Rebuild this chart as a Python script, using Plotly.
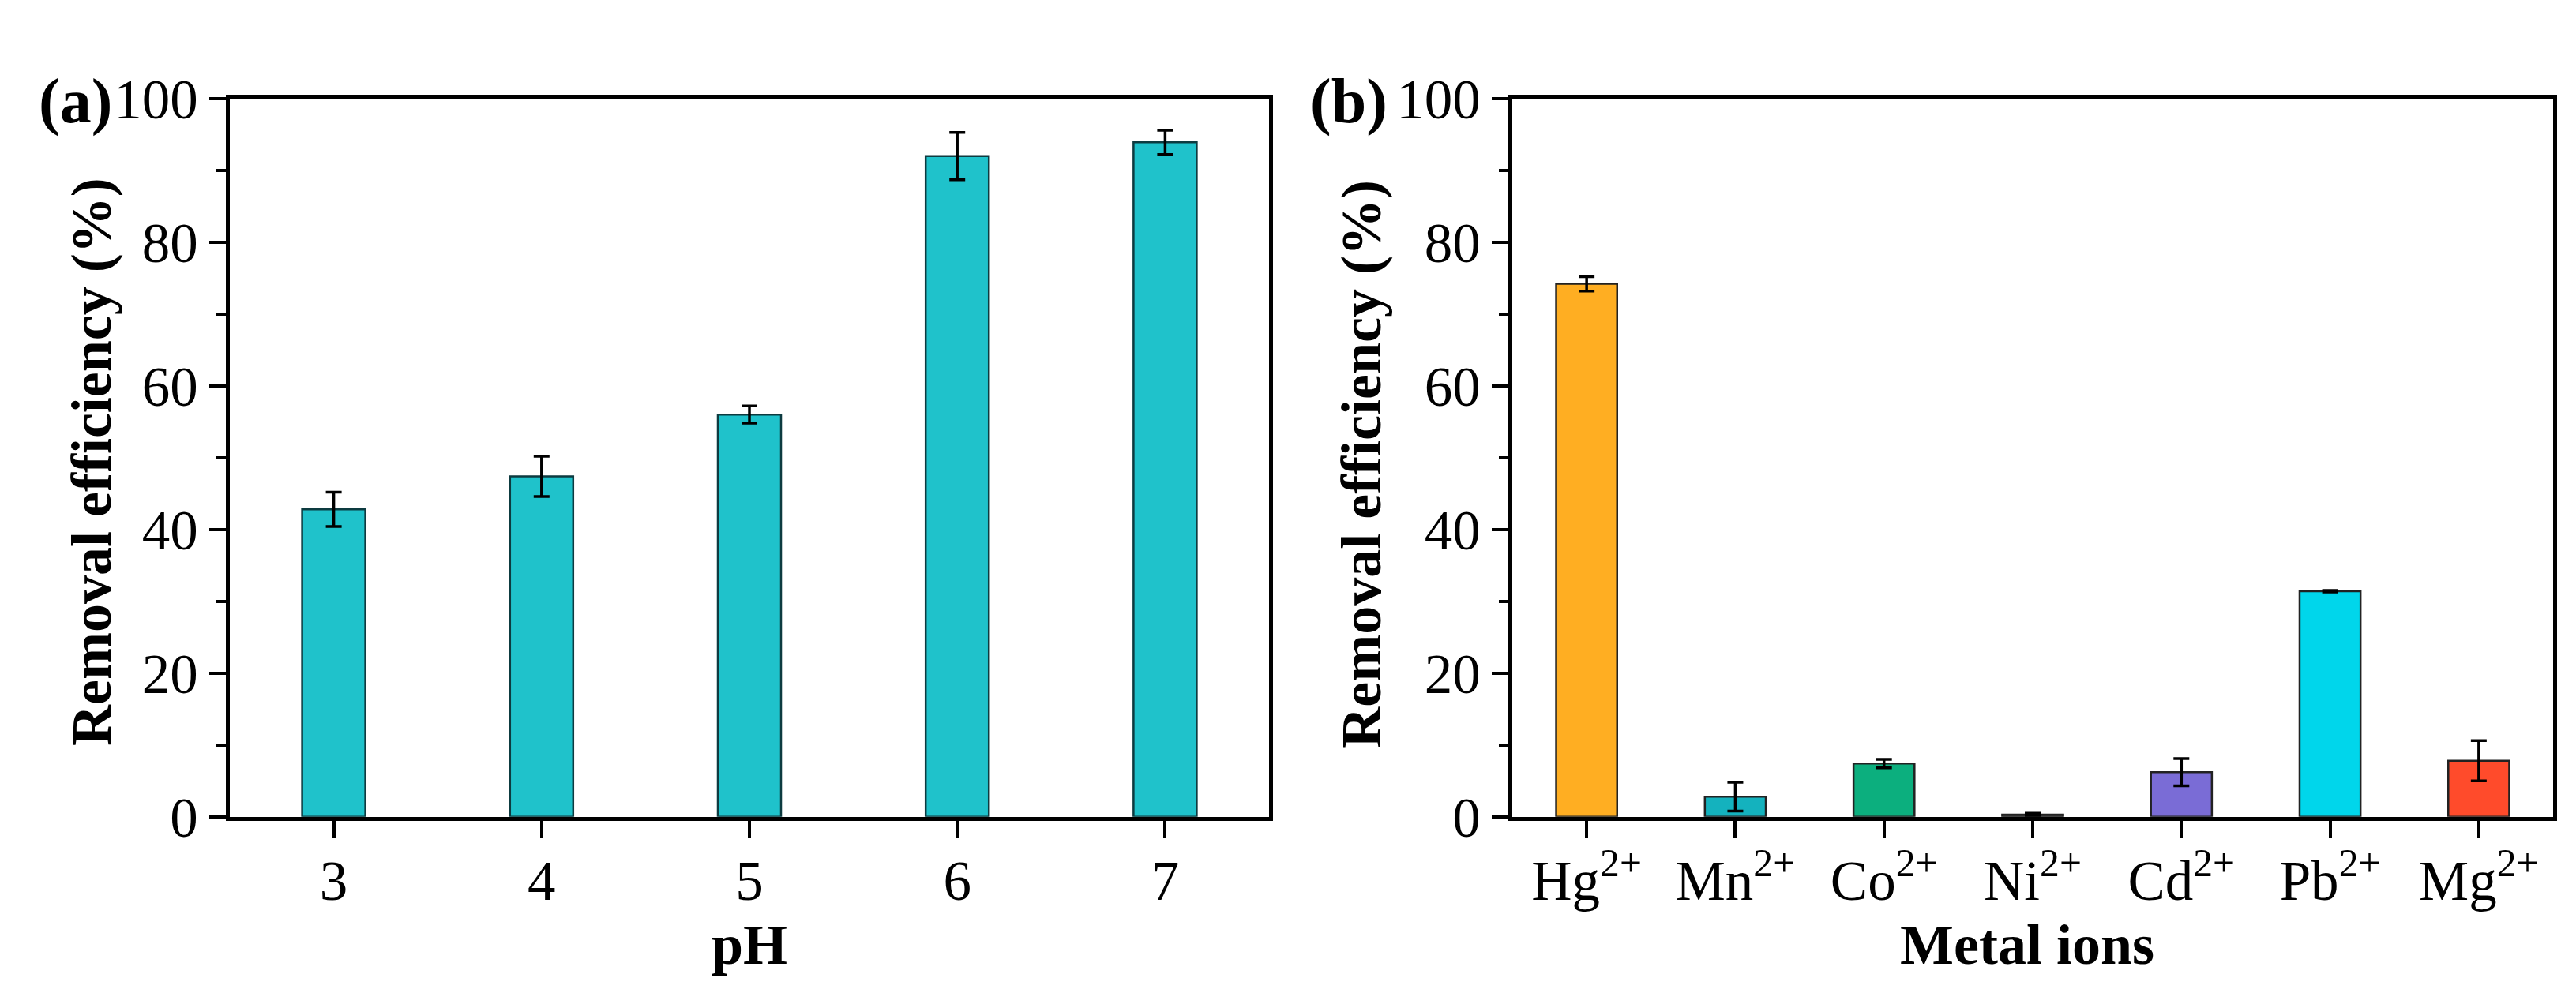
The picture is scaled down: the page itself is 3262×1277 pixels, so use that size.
import plotly.graph_objects as go

# ---------------- data ----------------
ph_values = [3, 4, 5, 6, 7]
ph_removal = [42.8, 47.4, 56.0, 92.0, 93.9]
ph_error = [2.4, 2.8, 1.2, 3.3, 1.7]

metal_ions = ["Hg<sup>2+</sup>", "Mn<sup>2+</sup>", "Co<sup>2+</sup>", "Ni<sup>2+</sup>",
              "Cd<sup>2+</sup>", "Pb<sup>2+</sup>", "Mg<sup>2+</sup>"]
metal_removal = [74.2, 2.8, 7.4, 0.3, 6.2, 31.4, 7.8]
metal_error = [1.0, 2.0, 0.6, 0.2, 1.9, 0.1, 2.8]
metal_colors = ["#FFAE22", "#14B2BE", "#0CAF7E", "#555555", "#7A6CD6", "#00D6EB", "#FF4B2B"]

y_ticks = [0, 20, 40, 60, 80, 100]

W, H = 3262, 1277
FONT = "Liberation Serif"
TICK_SIZE = 71
TITLE_SIZE = 72

fig = go.Figure()

fig.add_trace(go.Bar(
    x=ph_values, y=ph_removal, width=0.304,
    marker=dict(color="#1FC2CB", line=dict(color="#0D3B40", width=2.5)),
    error_y=dict(type="data", array=ph_error, visible=True, color="black", thickness=3.5, width=10),
    xaxis="x", yaxis="y", showlegend=False,
))

fig.add_trace(go.Bar(
    x=metal_ions, y=metal_removal, width=0.41,
    marker=dict(color=metal_colors, line=dict(color="#222222", width=2.5)),
    error_y=dict(type="data", array=metal_error, visible=True, color="black", thickness=3.5, width=10),
    xaxis="x2", yaxis="y2", showlegend=False,
))

axis_common = dict(
    showline=True, linecolor="black", linewidth=5, mirror=True,
    ticks="outside", ticklen=21, tickwidth=4, tickcolor="black",
    showgrid=False, zeroline=False,
    tickfont=dict(family=FONT, size=TICK_SIZE, color="black"),
)

xaxis_common = dict(axis_common)
xaxis_common.update(ticklabelstandoff=-6)

yaxis_common = dict(axis_common)
yaxis_common.update(
    range=[0, 100], tickmode="array", tickvals=y_ticks, ticktext=[str(v) for v in y_ticks],
    minor=dict(ticks="outside", ticklen=12, tickwidth=4, tickcolor="black", dtick=10, showgrid=False),
)

fig.update_layout(
    width=W, height=H, autosize=False,
    margin=dict(l=0, r=0, t=0, b=0),
    paper_bgcolor="white", plot_bgcolor="white",
    barmode="overlay",
    xaxis=dict(xaxis_common, domain=[283 / W, 1599 / W], range=[2.5, 7.5],
               tickmode="array", tickvals=ph_values, ticktext=[str(v) for v in ph_values],
               anchor="y"),
    yaxis=dict(yaxis_common, domain=[1 - 1053 / H, 1 - 84 / H], anchor="x"),
    xaxis2=dict(xaxis_common, domain=[1907 / W, 3225 / W], range=[-0.5, 6.5],
                type="category", anchor="y2"),
    yaxis2=dict(yaxis_common, domain=[1 - 1053 / H, 1 - 84 / H], anchor="x2"),
)

annotations = [
    dict(text="<b>(a)</b>", x=87 / W, y=1 - 88 / H, font=dict(size=80)),
    dict(text="<b>(b)</b>", x=1700 / W, y=1 - 88 / H, font=dict(size=80)),
    dict(text="<b>Removal efficiency (%)</b>", x=108 / W, y=1 - 574 / H, textangle=-90,
         font=dict(size=TITLE_SIZE)),
    dict(text="<b>Removal efficiency (%)</b>", x=1716 / W, y=1 - 577 / H, textangle=-90,
         font=dict(size=TITLE_SIZE)),
    dict(text="<b>pH</b>", x=941 / W, y=1 - 1226 / H, font=dict(size=TITLE_SIZE)),
    dict(text="<b>Metal ions</b>", x=2559 / W, y=1 - 1226 / H, font=dict(size=TITLE_SIZE)),
]
for a in annotations:
    a.update(xref="paper", yref="paper", showarrow=False, xanchor="center", yanchor="middle")
    a["font"].update(family=FONT, color="black")
fig.update_layout(annotations=annotations)

fig.write_html("out.html")
